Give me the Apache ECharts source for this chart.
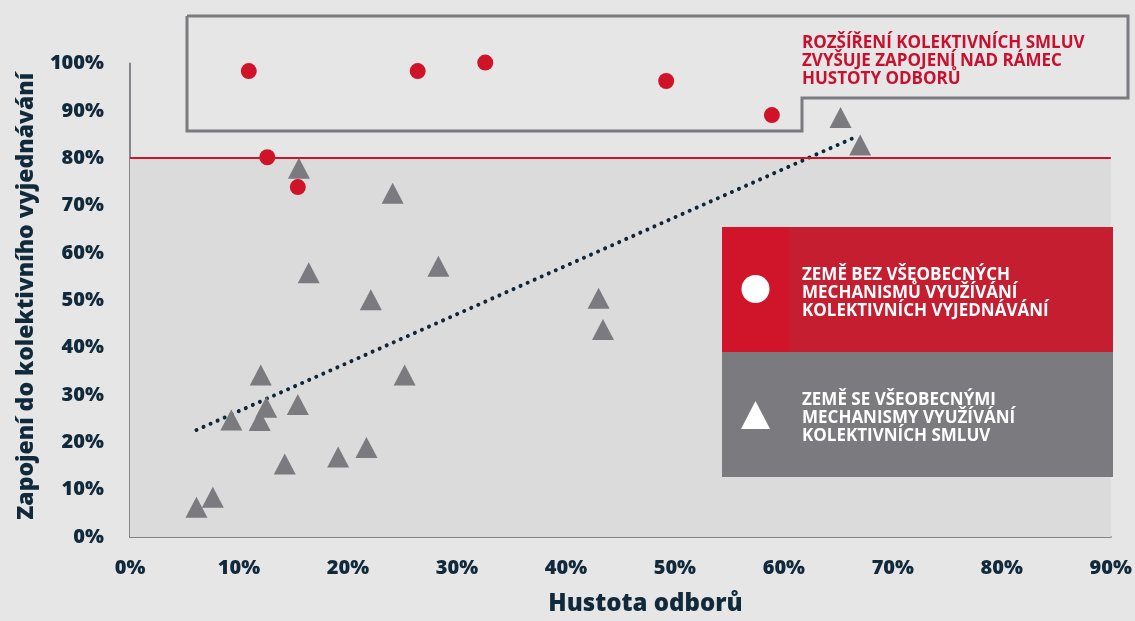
<!DOCTYPE html>
<html>
<head>
<meta charset="utf-8">
<script src="https://cdn.jsdelivr.net/npm/echarts@6/dist/echarts.min.js"></script>
<style>
html,body{margin:0;padding:0;background:#e6e6e6;}
#c{width:1135px;height:621px;}
</style>
</head>
<body>
<div id="c"></div>
<script>
// Countries without general extension mechanisms (red circles): [union density %, coverage %]
const noMechanism = [
  [10.9, 98.4], [26.4, 98.4], [32.6, 100.2], [49.2, 96.3], [58.9, 89.1],
  [12.6, 80.2], [15.4, 73.9]
];
// Countries with general extension mechanisms (grey triangles)
const withMechanism = [
  [15.5, 77.9], [24.1, 72.6], [16.4, 55.8], [22.1, 50.1], [28.3, 57.2],
  [43.0, 50.4], [43.4, 43.8], [65.2, 88.6], [67.0, 82.8], [12.0, 34.2],
  [9.3, 24.7], [11.9, 24.6], [12.5, 27.4], [15.4, 28.0], [14.2, 15.4],
  [19.1, 16.9], [21.7, 18.9], [25.2, 34.2], [6.1, 6.3], [7.6, 8.4]
];
// Trend line endpoints
const trendLine = [[6.1, 22.6], [66.7, 84.6]];
const threshold = 80;

const xName = 'Hustota odborů';
const yName = 'Zapojení do kolektivního vyjednávání';
const annotation = 'ROZŠÍŘENÍ KOLEKTIVNÍCH SMLUV\nZVYŠUJE ZAPOJENÍ NAD RÁMEC\nHUSTOTY ODBORŮ';
const legendRed = 'ZEMĚ BEZ VŠEOBECNÝCH\nMECHANISMŮ VYUŽÍVÁNÍ\nKOLEKTIVNÍCH VYJEDNÁVÁNÍ';
const legendGrey = 'ZEMĚ SE VŠEOBECNÝMI\nMECHANISMY VYUŽÍVÁNÍ\nKOLEKTIVNÍCH SMLUV';

const NAVY = '#112a3b';
const RED = '#cf1429';
const GREY = '#7a7a7f';
const FONT = 'Open Sans';

const chart = echarts.init(document.getElementById('c'));
chart.setOption({
  backgroundColor: '#e6e6e6',
  animation: false,
  textStyle: { fontFamily: FONT },
  grid: { left: 130, right: 23, top: 63.5, bottom: 81.5 },
  xAxis: {
    type: 'value', min: 0, max: 90, interval: 10,
    name: xName, nameLocation: 'middle', nameGap: 55,
    nameTextStyle: { color: NAVY, fontSize: 24, fontWeight: 800, fontFamily: FONT, padding: [0, 0, 0, 50] },
    axisLine: { show: true, lineStyle: { color: '#85858a', width: 2 } },
    axisTick: { show: false },
    splitLine: { show: false },
    axisLabel: { formatter: '{value}%', color: NAVY, fontSize: 20, fontWeight: 800, fontFamily: FONT, margin: 21 }
  },
  yAxis: {
    type: 'value', min: 0, max: 100, interval: 10,
    name: yName, nameLocation: 'middle', nameGap: 92,
    nameTextStyle: { color: NAVY, fontSize: 23, fontWeight: 800, fontFamily: FONT, padding: [0, 0, 0, 8] },
    axisLine: { show: true, lineStyle: { color: '#85858a', width: 2 } },
    axisTick: { show: false },
    splitLine: { show: false },
    axisLabel: { formatter: '{value}%', color: NAVY, fontSize: 20, fontWeight: 800, fontFamily: FONT, margin: 26 }
  },
  series: [
    {
      type: 'line', data: [], z: 1, silent: true,
      markArea: {
        silent: true,
        itemStyle: { color: '#dbdbdb' },
        data: [[{ xAxis: 0, yAxis: 0 }, { xAxis: 90, yAxis: threshold }]]
      },
      markLine: {
        silent: true, symbol: 'none', label: { show: false },
        lineStyle: { color: RED, width: 2, type: 'solid' },
        data: [{ yAxis: threshold }]
      }
    },
    {
      type: 'line', data: trendLine, z: 2, showSymbol: false, silent: true,
      lineStyle: { color: '#0d2638', width: 4, type: [0.01, 7.7], cap: 'round' }
    },
    {
      name: 'no', type: 'scatter', data: noMechanism, z: 4, clip: false,
      symbol: 'circle', symbolSize: 16,
      itemStyle: { color: RED, opacity: 1 }
    },
    {
      name: 'with', type: 'scatter', data: withMechanism, z: 3, clip: false,
      symbol: 'triangle', symbolSize: [22, 21],
      itemStyle: { color: GREY, opacity: 1 }
    }
  ],
  graphic: [
    {
      type: 'polyline', z: 5, silent: true,
      shape: { points: [[187, 16], [1128, 16], [1128, 98], [802, 98], [802, 131], [187, 131], [187, 16]] },
      style: { stroke: GREY, lineWidth: 3, fill: null }
    },
    {
      type: 'text', left: 802, top: 34, z: 6,
      style: { text: annotation, fill: '#c8102e', font: 'bold 17px "Open Sans"', lineHeight: 18 }
    },
    { type: 'rect', z: 6, shape: { x: 722, y: 227, width: 391, height: 125 }, style: { fill: '#c41e30' } },
    { type: 'rect', z: 6, shape: { x: 722, y: 227, width: 67, height: 125 }, style: { fill: '#d0142a' } },
    { type: 'rect', z: 6, shape: { x: 722, y: 352, width: 391, height: 125 }, style: { fill: GREY } },
    { type: 'circle', z: 7, shape: { cx: 755.5, cy: 289, r: 14 }, style: { fill: '#fff' } },
    { type: 'polygon', z: 7, shape: { points: [[755.5, 401], [770, 429], [741, 429]] }, style: { fill: '#fff' } },
    {
      type: 'text', left: 802, top: 266, z: 7,
      style: { text: legendRed, fill: '#fff', font: 'bold 17px "Open Sans"', lineHeight: 18 }
    },
    {
      type: 'text', left: 802, top: 391, z: 7,
      style: { text: legendGrey, fill: '#fff', font: 'bold 17px "Open Sans"', lineHeight: 18 }
    }
  ]
});
</script>
</body>
</html>
